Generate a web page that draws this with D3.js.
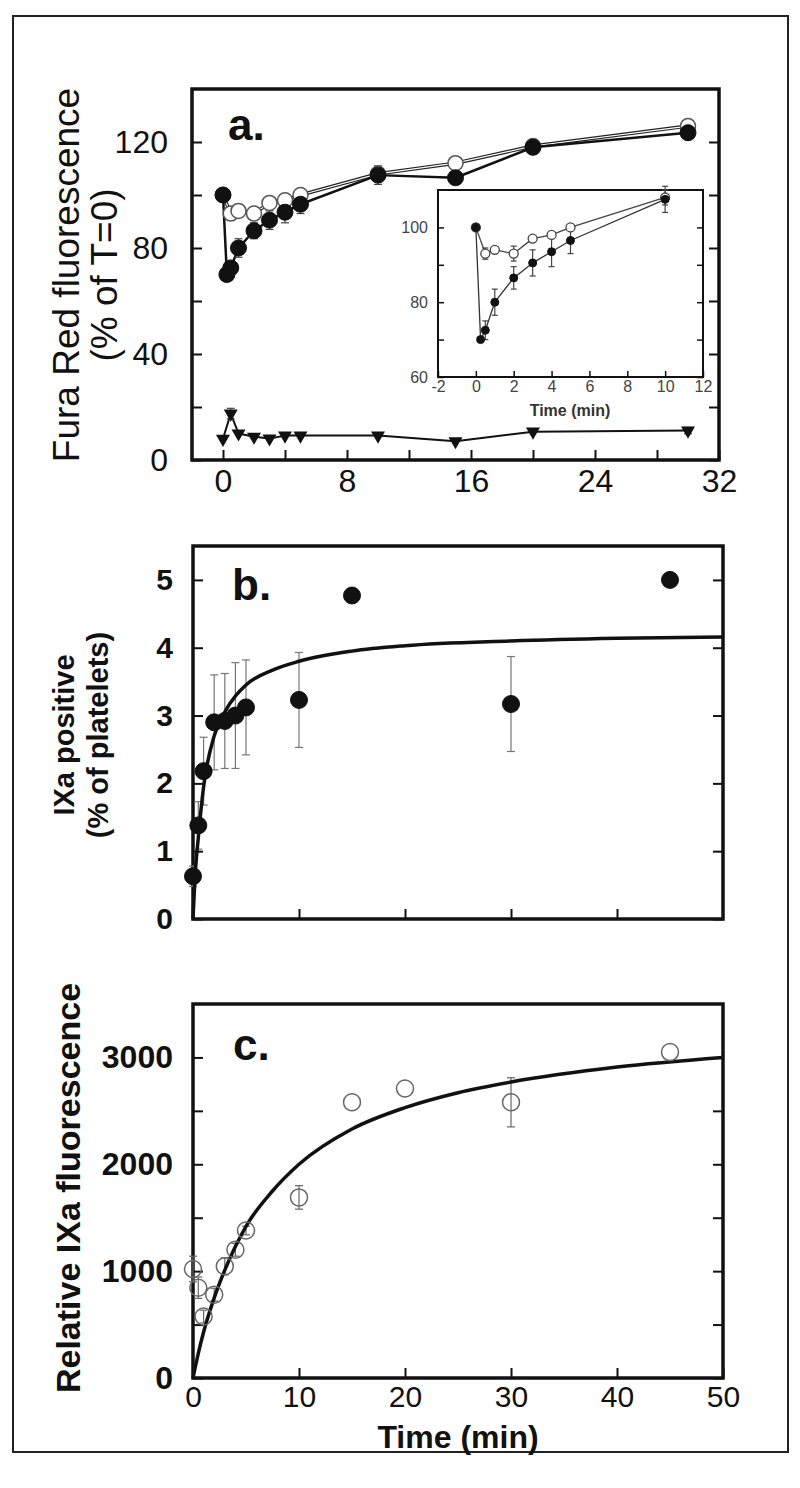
<!DOCTYPE html>
<html>
<head>
<meta charset="utf-8">
<script src="https://cdn.jsdelivr.net/npm/d3@7"></script>
<style>
body { margin: 0; background: #fff; }
svg text { font-family: "Liberation Sans", Arial, Helvetica, sans-serif; }
</style>
</head>
<body>
<svg id="fig" width="800" height="1488"></svg>
<script>
// panel a: Fura Red fluorescence (% of T=0), filled / open circles + triangles
var aTime = [0, 0.25, 0.5, 1, 2, 3, 4, 5, 10, 15, 20, 30];
var aFilled = [100, 70, 72.5, 80, 86.5, 90.5, 93.5, 96.5, 107.5, 106.5, 118, 123.5];
var aFilledErr = [0, 0, 2.5, 3.5, 3, 3.5, 4, 3.5, 3.5, 1, 1.5, 1];
var aOpenTime = [0, 0.5, 1, 2, 3, 4, 5, 10, 15, 20, 30];
var aOpen = [100, 93, 94, 93, 97, 98, 100, 108, 112, 118.5, 126];
var aOpenErr = [0, 1.5, 0.5, 2, 0.5, 0.5, 0.5, 2, 1, 1, 1];
var aTriTime = [0, 0.5, 1, 2, 3, 4, 5, 10, 15, 20, 30];
var aTri = [8, 17.5, 10, 8.8, 8.1, 9.2, 9.2, 9.2, 7.1, 10.7, 11.1];
var aTriErr = [0, 2, 0, 0, 0, 0, 0, 0, 0, 0, 1.2];

// panel b: IXa positive (% of platelets)
var bTime = [0, 0.5, 1, 2, 3, 4, 5, 10, 15, 30, 45];
var bVal = [0.63, 1.38, 2.18, 2.9, 2.92, 3.0, 3.12, 3.23, 4.77, 3.17, 5.0];
var bErr = [0.15, 0.35, 0.5, 0.7, 0.7, 0.78, 0.7, 0.7, 0, 0.7, 0];
var bFitTime = [0, 0.25, 0.5, 1, 2, 3, 5, 7.5, 10, 15, 20, 30, 40, 50];
var bFitVal = [0, 0.75, 1.2, 1.95, 2.7, 3.05, 3.45, 3.67, 3.8, 3.95, 4.03, 4.1, 4.14, 4.16];

// panel c: relative IXa fluorescence
var cTime = [0, 0.5, 1, 2, 3, 4, 5, 10, 15, 20, 30, 45];
var cVal = [1020, 845, 575, 780, 1045, 1200, 1380, 1690, 2580, 2710, 2580, 3050];
var cErr = [120, 100, 60, 60, 80, 60, 40, 110, 0, 0, 230, 0];
var cFitTime = [0, 0.5, 1, 2, 3, 4, 5, 7.5, 10, 15, 20, 25, 30, 40, 50];
var cFitVal = [0, 230, 430, 750, 1010, 1230, 1420, 1750, 2000, 2330, 2530, 2670, 2770, 2910, 3000];

var svg = d3.select("#fig");
svg.append("rect").attr("width", 800).attr("height", 1488).attr("fill", "#fff");
svg.append("rect").attr("x", 13).attr("y", 16).attr("width", 775).attr("height", 1436)
  .attr("fill", "none").attr("stroke", "#222").attr("stroke-width", 2);

var drawAxes = function(x, y, o) {
  var g = svg.append("g");
  var x0 = x.range()[0], x1 = x.range()[1], y0 = y.range()[0], y1 = y.range()[1];
  if (o.fill) {
    g.append("rect").attr("x", x0).attr("y", y1).attr("width", x1 - x0).attr("height", y0 - y1).attr("fill", "#fff");
  }
  var fmt = function(list) {
    return function(d) { return list.indexOf(d) >= 0 ? d : ""; };
  };
  var left = d3.axisLeft(y).tickValues(o.yTicks).tickSizeInner(-o.tick).tickSizeOuter(0)
    .tickPadding(o.yPad).tickFormat(fmt(o.yLabels));
  var right = d3.axisRight(y).tickValues(o.yTicks).tickSizeInner(-o.tick).tickSizeOuter(0).tickFormat("");
  var bottom = d3.axisBottom(x).tickValues(o.xTicks).tickSizeInner(-o.tick).tickSizeOuter(0)
    .tickPadding(o.xPad).tickFormat(fmt(o.xLabels));
  var gl = g.append("g").attr("transform", "translate(" + x0 + ",0)").call(left);
  var gr = g.append("g").attr("transform", "translate(" + x1 + ",0)").call(right);
  var gb = g.append("g").attr("transform", "translate(0," + y0 + ")").call(bottom);
  [gl, gr, gb].forEach(function(p) {
    p.select(".domain").remove();
    p.selectAll("line").attr("stroke", "#111").attr("stroke-width", o.tickW);
    p.selectAll("text").attr("font-size", o.fs).attr("font-weight", o.fw).attr("fill", o.color)
      .attr("font-family", "Liberation Sans, Arial, sans-serif");
  });
  if (o.xfw) gb.selectAll("text").attr("font-weight", o.xfw);
  if (o.xfs) gb.selectAll("text").attr("font-size", o.xfs);
  g.append("rect").attr("x", x0).attr("y", y1).attr("width", x1 - x0).attr("height", y0 - y1)
    .attr("fill", "none").attr("stroke", "#111").attr("stroke-width", o.frameW);
  return g;
};

var drawLine = function(x, y, t, v, color, width, curve) {
  var pts = t.map(function(d, i) { return [d, v[i]]; });
  var line = d3.line().x(function(d) { return x(d[0]); }).y(function(d) { return y(d[1]); })
    .curve(curve || d3.curveLinear);
  return svg.append("path").datum(pts).attr("d", line).attr("fill", "none")
    .attr("stroke", color).attr("stroke-width", width).attr("stroke-linejoin", "round");
};

var drawErr = function(x, y, t, v, e, cap, color, width) {
  var g = svg.append("g").attr("stroke", color).attr("stroke-width", width);
  for (let i = 0; i < t.length; i++) {
    if (!e[i]) continue;
    var cx = x(t[i]), top = y(v[i] + e[i]), bot = y(v[i] - e[i]);
    g.append("line").attr("x1", cx).attr("x2", cx).attr("y1", top).attr("y2", bot);
    g.append("line").attr("x1", cx - cap).attr("x2", cx + cap).attr("y1", top).attr("y2", top);
    g.append("line").attr("x1", cx - cap).attr("x2", cx + cap).attr("y1", bot).attr("y2", bot);
  }
};

var drawDots = function(x, y, t, v, r, fill, stroke, sw) {
  svg.append("g").selectAll("circle").data(t).enter().append("circle")
    .attr("cx", function(d) { return x(d); })
    .attr("cy", function(d, i) { return y(v[i]); })
    .attr("r", r).attr("fill", fill).attr("stroke", stroke).attr("stroke-width", sw);
};

var yTitle = function(lines, cy, fs, fw) {
  lines.forEach(function(l) {
    svg.append("text").attr("transform", "translate(" + l[1] + "," + cy + ") rotate(-90)")
      .attr("text-anchor", "middle").attr("font-size", fs).attr("font-weight", fw)
      .attr("fill", "#111").text(l[0]);
  });
};

var panelLabel = function(txt, x, y) {
  svg.append("text").attr("x", x).attr("y", y).attr("font-size", 44).attr("font-weight", "bold")
    .attr("fill", "#111").text(txt);
};

// ---------- panel a ----------
var ax = d3.scaleLinear().domain([-2, 32]).range([192, 719]);
var ay = d3.scaleLinear().domain([0, 140]).range([460, 89]);
drawAxes(ax, ay, {
  yTicks: [0, 20, 40, 60, 80, 100, 120], yLabels: [0, 40, 80, 120],
  xTicks: [0, 4, 8, 12, 16, 20, 24, 28, 32], xLabels: [0, 8, 16, 24, 32],
  tick: 10, tickW: 2, yPad: 24, xPad: 9, fs: 32, fw: "normal", color: "#111", frameW: 3.5
});
drawLine(ax, ay, aOpenTime, aOpen, "#222", 3.5);
drawLine(ax, ay, aOpenTime, aOpen, "#fff", 1.2);
drawLine(ax, ay, aTime, aFilled, "#111", 2.5);
drawLine(ax, ay, aTriTime, aTri, "#111", 2);
drawErr(ax, ay, aOpenTime, aOpen, aOpenErr, 4, "#444", 1.2);
drawErr(ax, ay, aTime, aFilled, aFilledErr, 4, "#444", 1.2);
drawErr(ax, ay, aTriTime, aTri, aTriErr, 4, "#444", 1.2);
drawDots(ax, ay, aOpenTime, aOpen, 7.5, "#fff", "#555", 1.5);
drawDots(ax, ay, aTime, aFilled, 8, "#111", "#111", 1);
svg.append("g").selectAll("path").data(aTriTime).enter().append("path")
  .attr("d", d3.symbol().type(d3.symbolTriangle).size(85))
  .attr("transform", function(d, i) { return "translate(" + ax(d) + "," + ay(aTri[i]) + ") rotate(180)"; })
  .attr("fill", "#111");
panelLabel("a.", 228, 140);
yTitle([["Fura Red fluorescence", 79], ["(% of T=0)", 117]], 275, 37, "normal");

// inset of panel a
var ix = d3.scaleLinear().domain([-2, 12]).range([438, 703]);
var iy = d3.scaleLinear().domain([60, 110]).range([377, 190]);
drawAxes(ix, iy, {
  fill: true,
  yTicks: [60, 70, 80, 90, 100], yLabels: [60, 80, 100],
  xTicks: [-2, 0, 2, 4, 6, 8, 10, 12], xLabels: [-2, 0, 2, 4, 6, 8, 10, 12],
  tick: 6, tickW: 1.5, yPad: 10, xPad: 4, fs: 16, fw: "normal", color: "#444", frameW: 2
});
var insetTime = aTime.slice(0, 9), insetFilled = aFilled.slice(0, 9), insetFilledErr = aFilledErr.slice(0, 9);
var insetOpenTime = aOpenTime.slice(0, 8), insetOpen = aOpen.slice(0, 8), insetOpenErr = aOpenErr.slice(0, 8);
drawLine(ix, iy, insetOpenTime, insetOpen, "#444", 1.3);
drawLine(ix, iy, insetTime, insetFilled, "#333", 1.3);
drawErr(ix, iy, insetOpenTime, insetOpen, insetOpenErr, 3, "#444", 1.2);
drawErr(ix, iy, insetTime, insetFilled, insetFilledErr, 3, "#444", 1.2);
drawDots(ix, iy, insetOpenTime, insetOpen, 4.5, "#fff", "#444", 1.3);
drawDots(ix, iy, insetTime, insetFilled, 4, "#111", "#111", 1);
svg.append("text").attr("x", 570).attr("y", 416).attr("text-anchor", "middle")
  .attr("font-size", 16).attr("font-weight", "bold").attr("fill", "#333").text("Time (min)");

// ---------- panel b ----------
var bx = d3.scaleLinear().domain([0, 50]).range([193, 723]);
var by = d3.scaleLinear().domain([0, 5.5]).range([919, 546]);
drawAxes(bx, by, {
  yTicks: [0, 1, 2, 3, 4, 5], yLabels: [0, 1, 2, 3, 4, 5],
  xTicks: [10, 20, 30, 40], xLabels: [],
  tick: 10, tickW: 2, yPad: 20, xPad: 10, fs: 30, fw: "bold", color: "#111", frameW: 3.5
});
drawErr(bx, by, bTime, bVal, bErr, 4, "#777", 1.2);
drawLine(bx, by, bFitTime, bFitVal, "#111", 3.5, d3.curveMonotoneX);
drawDots(bx, by, bTime, bVal, 8.5, "#111", "#111", 1);
panelLabel("b.", 232, 600);
yTitle([["IXa positive", 74], ["(% of platelets)", 108]], 735, 29, "bold");

// ---------- panel c ----------
var cx = d3.scaleLinear().domain([0, 50]).range([193, 723]);
var cy = d3.scaleLinear().domain([0, 3500]).range([1378, 1004]);
drawAxes(cx, cy, {
  yTicks: [0, 500, 1000, 1500, 2000, 2500, 3000], yLabels: [0, 1000, 2000, 3000],
  xTicks: [0, 10, 20, 30, 40, 50], xLabels: [0, 10, 20, 30, 40, 50],
  tick: 10, tickW: 2, yPad: 20, xPad: 8, fs: 32, fw: "bold", xfs: 30, xfw: "normal",
  color: "#111", frameW: 3.5
});
drawErr(cx, cy, cTime, cVal, cErr, 4, "#666", 1.2);
drawLine(cx, cy, cFitTime, cFitVal, "#111", 3.5, d3.curveMonotoneX);
drawDots(cx, cy, cTime, cVal, 8.5, "none", "#666", 1.5);
panelLabel("c.", 233, 1060);
yTitle([["Relative IXa fluorescence", 80]], 1188, 34, "bold");
svg.append("text").attr("x", 458).attr("y", 1448).attr("text-anchor", "middle")
  .attr("font-size", 32).attr("font-weight", "bold").attr("fill", "#111").text("Time (min)");
</script>
</body>
</html>
